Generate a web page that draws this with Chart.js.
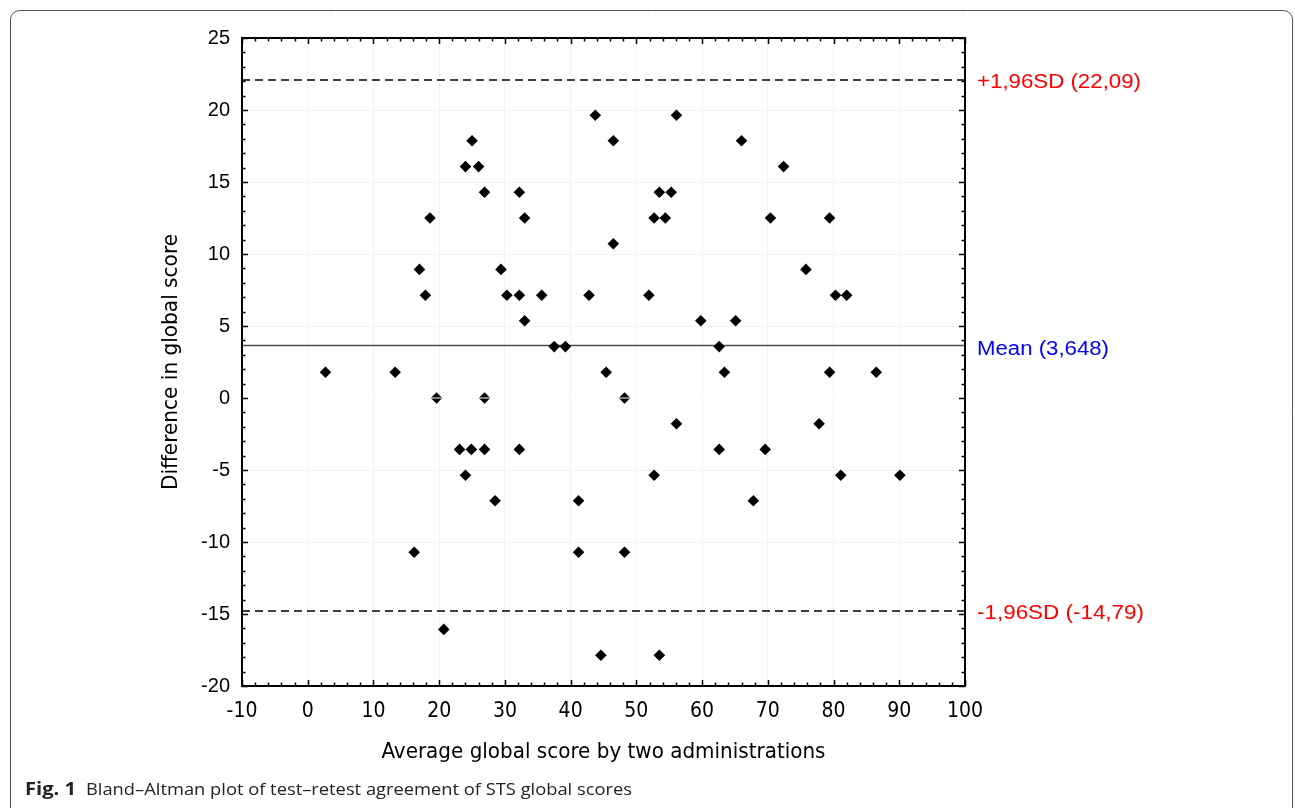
<!DOCTYPE html>
<html><head><meta charset="utf-8">
<script src="https://cdn.jsdelivr.net/npm/chart.js@4.4.0/dist/chart.umd.min.js"></script>
<style>html,body{margin:0;padding:0;background:#fff;overflow:hidden}canvas{display:block}</style>
</head><body>
<canvas id="c" width="1295" height="808"></canvas>
<script>
// ---- data ----
const avgScore = [43.75, 25.0, 24.0, 26.0, 26.9, 32.2, 18.6, 33.0, 17.0, 29.4, 17.9, 30.3, 32.2, 35.6, 42.8, 33.0, 37.5, 39.2,
  46.5, 56.1, 66.0, 72.4, 53.5, 55.3, 52.7, 54.4, 70.4, 79.4, 46.5, 75.8, 51.9, 80.3, 82.0, 59.8, 65.1, 62.6,
  2.7, 13.3, 45.4, 19.6, 26.9, 23.1, 24.9, 26.9, 32.2, 24.0, 28.5, 41.2, 16.2, 41.2, 20.7, 44.6,
  63.4, 79.4, 86.5, 48.2, 56.1, 77.8, 62.6, 69.6, 52.7, 81.1, 90.1, 67.8, 48.2, 53.5];
const diffScore = [19.64, 17.86, 16.07, 16.07, 14.29, 14.29, 12.50, 12.50, 8.93, 8.93, 7.14, 7.14, 7.14, 7.14, 7.14, 5.36, 3.57, 3.57,
  17.86, 19.64, 17.86, 16.07, 14.29, 14.29, 12.50, 12.50, 12.50, 12.50, 10.71, 8.93, 7.14, 7.14, 7.14, 5.36, 5.36, 3.57,
  1.79, 1.79, 1.79, 0, 0, -3.57, -3.57, -3.57, -3.57, -5.36, -7.14, -7.14, -10.71, -10.71, -16.07, -17.86,
  1.79, 1.79, 1.79, 0, -1.79, -1.79, -3.57, -3.57, -5.36, -5.36, -5.36, -7.14, -10.71, -17.86];
const meanDiff = 3.648;
const upperLoA = 22.09;
const lowerLoA = -14.79;
const xRange = [-10, 100];
const yRange = [-20, 25];
const xTickStep = 10, yTickStep = 5;
const xMinorStep = 2, yMinorStep = 1;
const upperLabel = '+1,96SD (22,09)';
const meanLabel = 'Mean (3,648)';
const lowerLabel = '-1,96SD (-14,79)';
const xTitle = 'Average global score by two administrations';
const yTitle = 'Difference in global score';
const captionBold = 'Fig. 1';
const captionText = 'Bland\u2013Altman plot of test\u2013retest agreement of STS global scores';

// ---- styling ----
const NARROW = "'Liberation Sans Narrow','Arial Narrow','DejaVu Sans Condensed',sans-serif";
const ARIAL = "'Liberation Sans',Arial,sans-serif";

const points = avgScore.map((x, i) => ({x, y: diffScore[i]}));
const hline = v => [{x: xRange[0], y: v}, {x: xRange[1], y: v}];

function fitText(ctx, text, x, y, w, align) {
  const m = ctx.measureText(text).width;
  const s = w / m;
  ctx.save();
  ctx.translate(x, y);
  ctx.scale(s, 1);
  ctx.textAlign = align;
  ctx.fillText(text, 0, 0);
  ctx.restore();
}

const decor = {
  id: 'decor',
  beforeDraw(chart) {
    const ctx = chart.ctx;
    ctx.save();
    ctx.fillStyle = '#fff';
    ctx.fillRect(0, 0, chart.width, chart.height);
    ctx.strokeStyle = '#555';
    ctx.lineWidth = 1;
    ctx.beginPath();
    ctx.roundRect(10.5, 10.5, 1282, 808, 9);
    ctx.stroke();
    ctx.restore();
  },
  afterDatasetsDraw(chart) {
    const ctx = chart.ctx, a = chart.chartArea;
    const xs = chart.scales.x, ys = chart.scales.y;
    ctx.save();
    ctx.strokeStyle = '#000';
    ctx.lineWidth = 2;
    ctx.strokeRect(a.left, a.top, a.right - a.left, a.bottom - a.top);
    ctx.lineWidth = 1.5;
    ctx.beginPath();
    for (let v = xRange[0]; v <= xRange[1] + 1e-9; v += xMinorStep) {
      const px = Math.round(xs.getPixelForValue(v)) + 0.5;
      const len = (Math.abs(v % xTickStep) < 1e-9) ? 6 : 3.5;
      ctx.moveTo(px, a.bottom); ctx.lineTo(px, a.bottom - len);
      ctx.moveTo(px, a.top); ctx.lineTo(px, a.top + len);
    }
    for (let v = yRange[0]; v <= yRange[1] + 1e-9; v += yMinorStep) {
      const py = Math.round(ys.getPixelForValue(v)) + 0.5;
      const len = (Math.abs(v % yTickStep) < 1e-9) ? 6 : 3.5;
      ctx.moveTo(a.left, py); ctx.lineTo(a.left + len, py);
      ctx.moveTo(a.right, py); ctx.lineTo(a.right - len, py);
    }
    ctx.stroke();
    ctx.restore();
  },
  afterDraw(chart) {
    const ctx = chart.ctx, a = chart.chartArea;
    const ys = chart.scales.y;
    ctx.save();
    ctx.font = '20px ' + ARIAL;
    ctx.textBaseline = 'middle';
    ctx.textAlign = 'left';
    ctx.fillStyle = '#ff0000';
    fitText(ctx, upperLabel, a.right + 12, ys.getPixelForValue(upperLoA) + 3, 164, 'left');
    fitText(ctx, lowerLabel, a.right + 12, ys.getPixelForValue(lowerLoA) + 3, 167, 'left');
    ctx.fillStyle = '#0000ff';
    fitText(ctx, meanLabel, a.right + 12, ys.getPixelForValue(meanDiff) + 4, 132, 'left');
    ctx.fillStyle = '#000';
    ctx.font = '21px ' + NARROW;
    ctx.textBaseline = 'middle';
    fitText(ctx, xTitle, (a.left + a.right) / 2, 753, 444, 'center');
    ctx.save();
    ctx.translate(172, (a.top + a.bottom) / 2);
    ctx.rotate(-Math.PI / 2);
    fitText(ctx, yTitle, 0, 0, 256, 'center');
    ctx.restore();
    ctx.textBaseline = 'alphabetic';
    ctx.fillStyle = '#222';
    ctx.font = 'bold 17px ' + "'Open Sans',sans-serif";
    fitText(ctx, captionBold, 25, 795, 51, 'left');
    ctx.font = '17px ' + "'Open Sans',sans-serif";
    fitText(ctx, captionText, 86, 795, 546, 'left');
    ctx.restore();
  }
};

new Chart(document.getElementById('c'), {
  type: 'scatter',
  data: {
    datasets: [
      {label: 'zero', type: 'line', data: hline(0), borderColor: '#ffffff', borderWidth: 1.2,
       pointRadius: 0, order: 0},
      {label: 'Differences', data: points, pointStyle: 'rectRot', pointRadius: 5.8,
       backgroundColor: '#000', borderColor: '#000', borderWidth: 0, order: 1},
      {label: 'Mean', type: 'line', data: hline(meanDiff), borderColor: '#4a4a4a', borderWidth: 1.5,
       pointRadius: 0, order: 2},
      {label: '+1.96SD', type: 'line', data: hline(upperLoA), borderColor: '#000', borderWidth: 1.5,
       borderDash: [8, 5], pointRadius: 0, order: 2},
      {label: '-1.96SD', type: 'line', data: hline(lowerLoA), borderColor: '#000', borderWidth: 1.5,
       borderDash: [8, 5], pointRadius: 0, order: 2}
    ]
  },
  options: {
    responsive: false,
    devicePixelRatio: 1,
    animation: false,
    events: [],
    layout: {padding: {left: 150, right: 330, top: 38, bottom: 82}},
    plugins: {legend: {display: false}, tooltip: {enabled: false}},
    scales: {
      x: {
        type: 'linear', min: xRange[0], max: xRange[1],
        ticks: {stepSize: xTickStep, padding: 13, color: '#000', font: {family: NARROW, size: 21}, maxRotation: 0},
        grid: {color: '#f3f3f3', drawTicks: false},
        border: {display: false},
        afterFit: s => { s.height = 40; }
      },
      y: {
        type: 'linear', min: yRange[0], max: yRange[1],
        ticks: {stepSize: yTickStep, padding: 12, color: '#000', font: {family: ARIAL, size: 20}},
        grid: {color: '#f3f3f3', drawTicks: false},
        border: {display: false},
        afterFit: s => { s.width = 92; }
      }
    }
  },
  plugins: [decor]
});
</script>
</body></html>
